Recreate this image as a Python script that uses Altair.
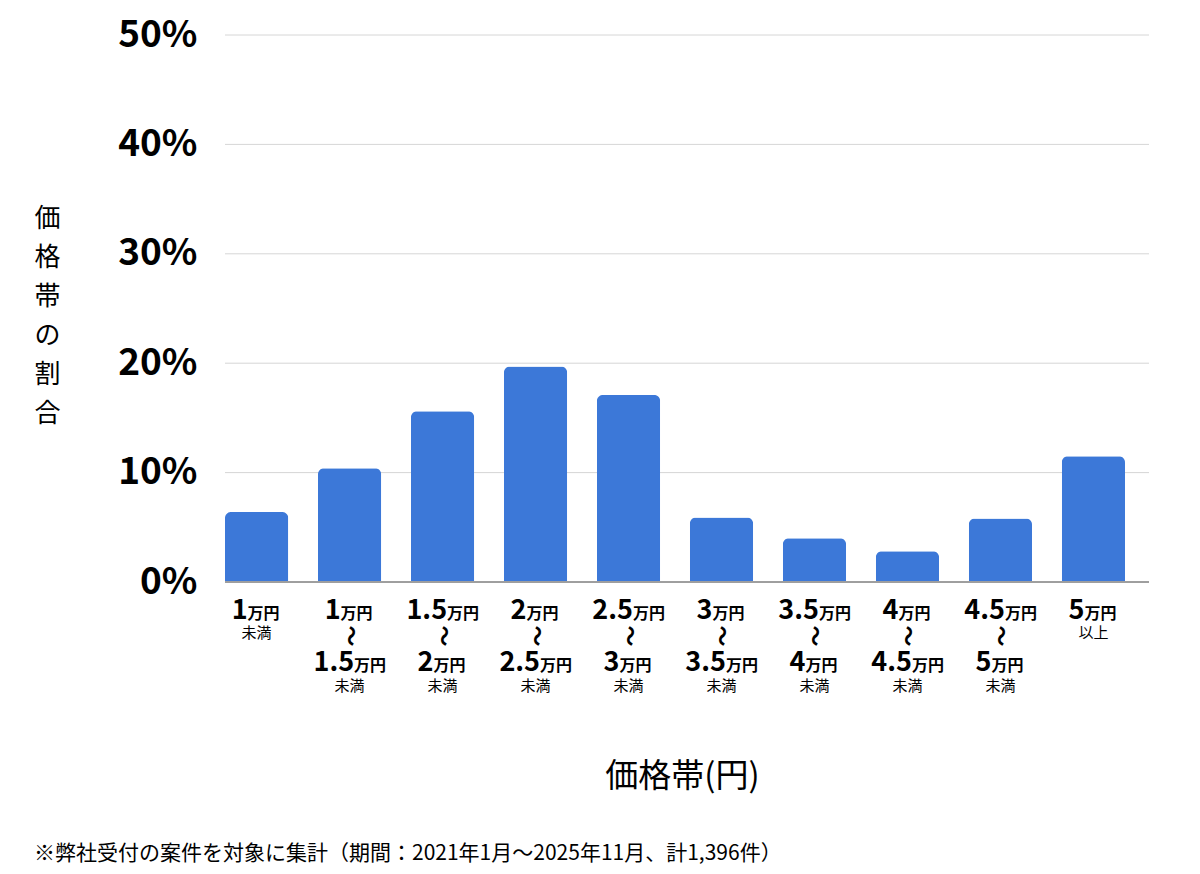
import altair as alt
import pandas as pd

FONT = "Noto Sans CJK JP"
BAR_COLOR = "#3c78d8"

# price bands: lower bound, upper bound (blank = open), suffix
low_nums = ["1", "1", "1.5", "2", "2.5", "3", "3.5", "4", "4.5", "5"]
high_nums = ["", "1.5", "2", "2.5", "3", "3.5", "4", "4.5", "5", ""]
suffixes = ["未満", "未満", "未満", "未満", "未満", "未満", "未満", "未満", "未満", "以上"]
shares = [6.4, 10.4, 15.6, 19.7, 17.1, 5.9, 4.0, 2.8, 5.8, 11.5]
y_ticks = [0, 10, 20, 30, 40, 50]

y_title = ["価", "格", "帯", "の", "割", "合"]
x_title = "価格帯(円)"
footnote = "※弊社受付の案件を対象に集計（期間：2021年1月〜2025年11月、計1,396件）"

keys = [
    f"{lo}万円{suf}" if not hi else f"{lo}〜{hi}万円"
    for lo, hi, suf in zip(low_nums, high_nums, suffixes)
]

W, H = 924, 547

bars = pd.DataFrame({"cat": keys, "share": shares})
grid = pd.DataFrame({"tick": y_ticks})

x_scale = alt.Scale(domain=keys, range=[0, 900], paddingInner=0.32, paddingOuter=0)
x_axis = alt.Axis(
    labels=False, ticks=False, domain=False, grid=False,
    title=x_title, titleFont=FONT, titleFontSize=33, titleFontWeight="normal",
    titleColor="#000", titleX=457, titleY=194, titleBaseline="middle",
)
y_scale = alt.Scale(domain=[0, 50])
y_axis = alt.Axis(
    values=y_ticks, labelExpr="datum.value + '%'",
    labelFont=FONT, labelFontSize=37, labelFontWeight="bold", labelColor="#000",
    labelPadding=28, domain=False, ticks=False, grid=False,
    title=y_title, titleFont=FONT, titleFontSize=26, titleFontWeight="normal",
    titleColor="#000", titleAngle=0, titleX=-178, titleY=183,
    titleAlign="center", titleBaseline="middle", titleLineHeight=39,
)


def x_enc():
    return alt.X("cat:N", scale=x_scale, axis=x_axis, title=x_title)


def text_layer(df, y, **kw):
    opts = dict(font=FONT, color="#000", baseline="alphabetic")
    opts.update(kw)
    return alt.Chart(df).mark_text(**opts).encode(
        x=x_enc(), y=alt.value(y), text="text:N"
    )


def amount_layers(nums, y):
    # number in big bold digits, "万円" smaller, centred together under the bar
    layers = []
    rows = [(k, n) for k, n in zip(keys, nums) if n]
    short = pd.DataFrame([(k, n) for k, n in rows if len(n) == 1], columns=["cat", "text"])
    long_ = pd.DataFrame([(k, n) for k, n in rows if len(n) > 1], columns=["cat", "text"])
    for df, dx in ((short, -9), (long_, 4.5)):
        if df.empty:
            continue
        layers.append(text_layer(df, y, align="right", dx=dx, fontSize=27, fontWeight="bold"))
        unit = df.assign(text="万円")
        layers.append(text_layer(unit, y, align="left", dx=dx, fontSize=16, fontWeight="bold"))
    return layers


grid_layer = alt.Chart(grid).mark_rule(color="#d6d6d6", strokeWidth=1).encode(
    y=alt.Y("tick:Q", scale=y_scale, axis=y_axis, title=y_title)
)

bar_layer = alt.Chart(bars).mark_bar(
    color=BAR_COLOR, cornerRadiusTopLeft=6, cornerRadiusTopRight=6
).encode(
    x=x_enc(),
    y=alt.Y("share:Q", scale=y_scale, axis=y_axis, title=y_title),
)

baseline = alt.Chart(bars).mark_rule(color="#9e9e9e", strokeWidth=1).encode(y=alt.datum(0))

range_keys = [k for k, hi in zip(keys, high_nums) if hi]
open_keys = [k for k, hi in zip(keys, high_nums) if not hi]

tilde = pd.DataFrame({"cat": range_keys, "text": "〜"})
suffix_open = pd.DataFrame(
    {"cat": open_keys, "text": [s for s, hi in zip(suffixes, high_nums) if not hi]}
)
suffix_range = pd.DataFrame(
    {"cat": range_keys, "text": [s for s, hi in zip(suffixes, high_nums) if hi]}
)

layers = [grid_layer, bar_layer, baseline]
layers += amount_layers(low_nums, H + 37)
layers.append(text_layer(suffix_open, H + 56, align="center", fontSize=15))
layers.append(
    text_layer(tilde, H + 54, align="center", baseline="middle", angle=90,
               fontSize=21, fontWeight="bold")
)
layers += amount_layers(high_nums, H + 89)
layers.append(text_layer(suffix_range, H + 109, align="center", fontSize=15))

chart = (
    alt.layer(*layers)
    .properties(
        width=W,
        height=H,
        padding={"left": 25, "top": 8, "right": 10, "bottom": 10},
        title=alt.TitleParams(
            text=footnote, orient="bottom", anchor="start", frame="bounds",
            font=FONT, fontSize=21, fontWeight="normal", color="#000", offset=50,
        ),
    )
    .configure_view(strokeWidth=0)
)

chart.save("out.html", embed_options={"renderer": "svg", "actions": False})
